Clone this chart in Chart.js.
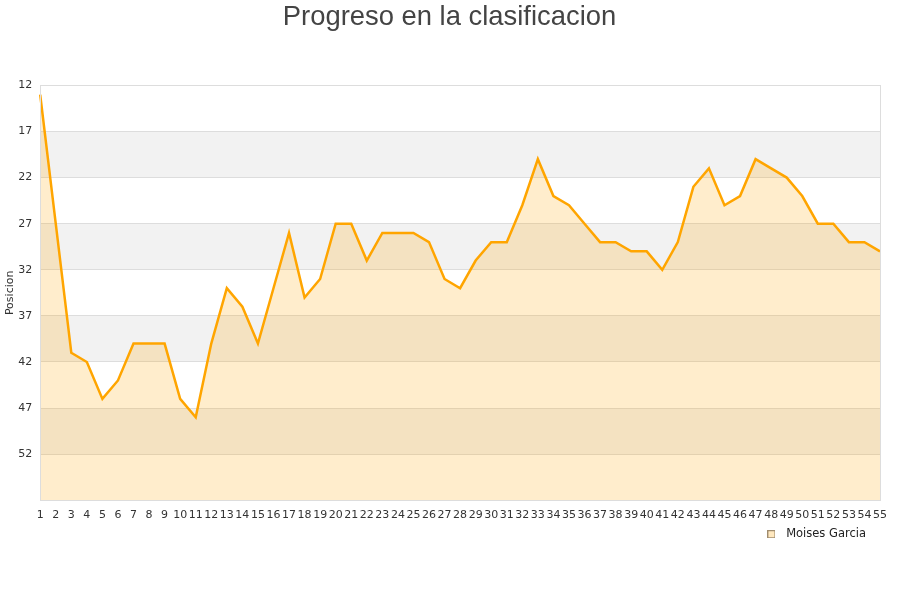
<!DOCTYPE html>
<html>
<head>
<meta charset="utf-8">
<script src="https://cdn.jsdelivr.net/npm/chart.js@4"></script>
<style>
html,body{margin:0;padding:0;background:#fff;}
#wrap{width:900px;height:600px;}
</style>
</head>
<body>
<div id="wrap"><canvas id="c" width="900" height="600"></canvas></div>
<script>
const titleText = 'Progreso en la clasificacion';
const seriesName = 'Moises Garcia';
const axisTitle = 'Posicion';
const jornadas = Array.from({length: 55}, (_, i) => String(i + 1));
const posiciones = [13, 27, 41, 42, 46, 44, 40, 40, 40, 46,
                    48, 40, 34, 36, 40, 34, 28, 35, 33, 27,
                    27, 31, 28, 28, 28, 29, 33, 34, 31, 29,
                    29, 25, 20, 24, 25, 27, 29, 29, 30, 30,
                    32, 29, 23, 21, 25, 24, 20, 21, 22, 24,
                    27, 27, 29, 29, 30];
const yTicks = [12, 17, 22, 27, 32, 37, 42, 47, 52];
const yMin = 12, yMax = 57;
const bands = [[17, 22], [27, 32], [37, 42], [47, 52]];

// legend marker
const marker = document.createElement('canvas');
marker.width = 8; marker.height = 8;
(function () {
  const m = marker.getContext('2d');
  m.fillStyle = 'rgba(255,165,0,0.25)';
  m.fillRect(0, 0, 8, 8);
  m.strokeStyle = '#a08c6e';
  m.lineWidth = 1;
  m.strokeRect(0.5, 0.5, 7, 7);
})();

const bandPlugin = {
  id: 'bands',
  afterLayout(chart) {
    if (chart.legend) {
      chart.legend.right -= 7;
    }
    if (chart.titleBlock) {
      chart.titleBlock.left += 9;
      chart.titleBlock.right += 9;
    }
  },
  beforeDraw(chart) {
    const {ctx, chartArea: a, scales: {y}} = chart;
    ctx.save();
    ctx.fillStyle = '#f2f2f2';
    bands.forEach(([f, t]) => {
      const y1 = y.getPixelForValue(f), y2 = y.getPixelForValue(t);
      ctx.fillRect(a.left, Math.min(y1, y2), a.right - a.left, Math.abs(y2 - y1));
    });
    ctx.restore();
  },
  afterDatasetsDraw(chart) {
    const {ctx, chartArea: a} = chart;
    ctx.save();
    ctx.strokeStyle = '#dddddd';
    ctx.lineWidth = 1;
    ctx.strokeRect(Math.round(a.left) + 0.5, Math.round(a.top) + 0.5, Math.round(a.right - a.left), Math.round(a.bottom - a.top));
    ctx.restore();
  }
};

new Chart(document.getElementById('c'), {
  type: 'line',
  data: {
    labels: jornadas,
    datasets: [{
      label: seriesName,
      data: posiciones,
      borderColor: '#ffa500',
      backgroundColor: 'rgba(255,165,0,0.2)',
      borderWidth: 2.5,
      fill: {value: yMax},
      pointRadius: 0,
      tension: 0
    }]
  },
  options: {
    responsive: false,
    animation: false,
    layout: {padding: {left: 1, right: 20, top: 0, bottom: 50}},
    plugins: {
      title: {
        display: true,
        text: titleText,
        color: '#444444',
        font: {family: 'Liberation Sans', size: 27.4, weight: 'normal'},
        padding: {top: 1, bottom: 51.5}
      },
      legend: {
        position: 'bottom',
        align: 'end',
        labels: {
          usePointStyle: true,
          pointStyle: marker,
          pointStyleWidth: 18,
          boxHeight: 8,
          color: '#222222',
          font: {family: 'DejaVu Sans', size: 11.5},
          padding: 7
        }
      },
      tooltip: {enabled: false}
    },
    scales: {
      x: {
        offset: false,
        grid: {display: false},
        border: {display: false},
        ticks: {
          autoSkip: false,
          maxRotation: 0,
          minRotation: 0,
          color: '#333333',
          font: {family: 'DejaVu Sans', size: 11},
          padding: 0
        }
      },
      y: {
        reverse: true,
        min: yMin,
        max: yMax,
        afterBuildTicks(scale) {
          scale.ticks = yTicks.map(v => ({value: v}));
        },
        grid: {color: '#dddddd', drawTicks: false},
        border: {display: false},
        ticks: {
          color: '#333333',
          font: {family: 'DejaVu Sans', size: 11},
          padding: 8
        },
        title: {
          display: true,
          text: axisTitle,
          color: '#333333',
          font: {family: 'DejaVu Sans', size: 11},
          padding: {top: 3, bottom: -7}
        }
      }
    }
  },
  plugins: [bandPlugin]
});
</script>
</body>
</html>
